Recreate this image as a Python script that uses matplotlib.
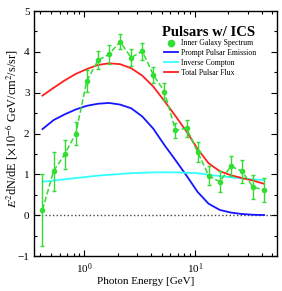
import numpy as np
import matplotlib
matplotlib.use('Agg')
import matplotlib.pyplot as plt
from matplotlib.ticker import MultipleLocator, LogLocator, NullFormatter

plt.rcParams['font.family'] = ['Liberation Serif', 'DejaVu Serif']
plt.rcParams['mathtext.fontset'] = 'stix'

# Inner Galaxy spectrum (GeV, 1e-6 GeV/cm^2/s/sr)
energy = 0.42 * 10 ** (0.1 * np.arange(21))
flux = [0.13, 1.08, 1.49, 2.00, 3.29, 3.79, 3.94, 4.25, 3.86, 4.02, 3.44,
        3.03, 2.08, 2.13, 1.55, 0.97, 0.82, 1.20, 1.08, 0.69, 0.62]
flux_err = [0.89, 0.48, 0.36, 0.28, 0.26, 0.22, 0.23, 0.19, 0.21, 0.21, 0.20,
            0.20, 0.18, 0.21, 0.25, 0.24, 0.26, 0.25, 0.28, 0.30, 0.30]

# model curves on the same energy grid
prompt = [2.11, 2.33, 2.47, 2.59, 2.68, 2.73, 2.75, 2.71, 2.62, 2.42, 2.12,
          1.72, 1.35, 0.97, 0.57, 0.28, 0.13, 0.065, 0.03, 0.012, 0.005]
ics = [0.82, 0.85, 0.88, 0.91, 0.94, 0.97, 0.99, 1.01, 1.03, 1.04, 1.05,
       1.05, 1.05, 1.04, 1.03, 0.99, 0.96, 0.93, 0.90, 0.88, 0.86]
total = [2.93, 3.12, 3.30, 3.46, 3.58, 3.68, 3.72, 3.70, 3.60, 3.42, 3.15,
         2.80, 2.43, 2.05, 1.62, 1.27, 1.08, 0.98, 0.91, 0.85, 0.77]

green = '#33dd33'

fig = plt.figure(figsize=(2.82, 2.91), dpi=100)
ax = fig.add_axes([0.122, 0.120, 0.859, 0.842])

ax.axhline(0, color='#444444', linestyle=':', linewidth=1.0, zorder=1)

ax.plot(energy, prompt, color='#1515ff', linewidth=1.3, label='Prompt Pulsar Emission', zorder=2)
ax.plot(energy, ics, color='#33ffff', linewidth=1.3, label='Inverse Compton', zorder=2)
ax.plot(energy, total, color='#ff2020', linewidth=1.3, label='Total Pulsar Flux', zorder=2)

ax.plot(energy, flux, color=green, linestyle='--', linewidth=1.1, zorder=3)
ax.errorbar(energy, flux, yerr=flux_err, fmt='o', color=green, markersize=3,
            elinewidth=1.0, capsize=1.5, capthick=1.0, zorder=4)
ax.plot([], [], 'o', color=green, markersize=4.5, label='Inner Galaxy Spectrum')

ax.set_xscale('log')
ax.set_xlim(0.355, 54.5)
ax.set_ylim(-1, 5)
ax.yaxis.set_major_locator(MultipleLocator(1))
ax.yaxis.set_minor_locator(MultipleLocator(0.5))
ax.xaxis.set_major_locator(LogLocator(base=10, numticks=10))
ax.xaxis.set_minor_locator(LogLocator(base=10, subs=np.arange(2, 10), numticks=10))
ax.xaxis.set_minor_formatter(NullFormatter())
ax.tick_params(which='both', direction='in', top=True, right=True, labelsize=8, width=0.8)
ax.tick_params(which='major', length=4)
ax.tick_params(which='minor', length=2.5)
for s in ax.spines.values():
    s.set_linewidth(1.0)

ax.set_xlabel('Photon Energy [GeV]', fontsize=8)
ax.xaxis.set_label_coords(0.46, -0.085)
ax.set_ylabel(r'$E^2$dN/dE [$\times10^{-6}$ GeV/cm$^2$/s/sr]', fontsize=8.8)
ax.yaxis.set_label_coords(-0.062, 0.52)

ax.text(0.72, 0.914, 'Pulsars w/ ICS', transform=ax.transAxes, ha='center', va='center',
        fontsize=10.5, fontweight='bold')

handles, labels = ax.get_legend_handles_labels()
order = [3, 0, 1, 2]
ax.legend([handles[i] for i in order], [labels[i] for i in order],
          loc='upper left', bbox_to_anchor=(0.535, 0.885), frameon=False,
          fontsize=5.6, handlelength=1.75, handletextpad=0.45, labelspacing=0.25,
          borderaxespad=0, borderpad=0)

fig.savefig('out.png', dpi=100)
